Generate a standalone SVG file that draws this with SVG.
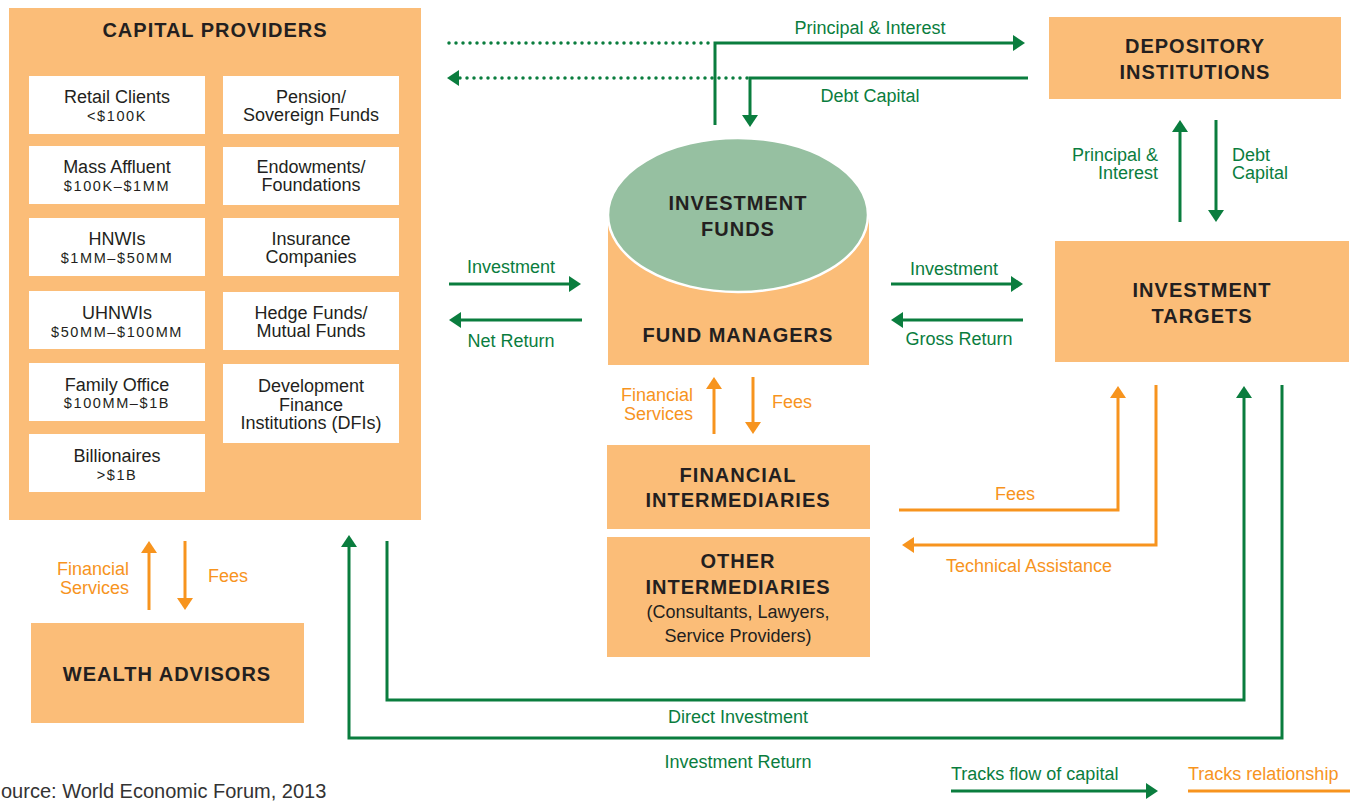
<svg xmlns="http://www.w3.org/2000/svg" width="1350" height="801" viewBox="0 0 1350 801">
<style>
.node{fill:#fbbd78}
.wbox{fill:#ffffff}
.h{font-family:"Liberation Sans",Arial,sans-serif;font-weight:bold;font-size:20px;letter-spacing:1px;fill:#231f20;text-anchor:middle}
.b{font-family:"Liberation Sans",Arial,sans-serif;font-size:18px;fill:#231f20;text-anchor:middle}
.s{font-family:"Liberation Sans",Arial,sans-serif;font-size:14.5px;letter-spacing:1.6px;fill:#231f20;text-anchor:middle}
.g{font-family:"Liberation Sans",Arial,sans-serif;font-size:18px;fill:#0a7d3e}
.o{font-family:"Liberation Sans",Arial,sans-serif;font-size:18px;fill:#f7941e}
.gl{fill:none;stroke:#0a7d3e;stroke-width:3}
.ol{fill:none;stroke:#f7941e;stroke-width:3}
.dot{fill:none;stroke:#0a7d3e;stroke-width:3.5;stroke-linecap:round;stroke-dasharray:0 7}
</style>
<defs>
<marker id="ag" viewBox="0 0 12 16" refX="2" refY="8" markerWidth="12" markerHeight="16" orient="auto" markerUnits="userSpaceOnUse"><path d="M0,0 L12,8 L0,16 z" fill="#0a7d3e"/></marker>
<marker id="ao" viewBox="0 0 12 16" refX="2" refY="8" markerWidth="12" markerHeight="16" orient="auto" markerUnits="userSpaceOnUse"><path d="M0,0 L12,8 L0,16 z" fill="#f7941e"/></marker>
</defs>

<g id="capital-providers">
<rect class="node" x="9" y="8" width="412" height="512"/>
<text class="h" x="215" y="37" font-size="21">CAPITAL PROVIDERS</text>
<rect class="wbox" x="29" y="76" width="176" height="58"/>
<text class="b" x="117" y="103">Retail Clients</text><text class="s" x="117" y="121">&lt;$100K</text>
<rect class="wbox" x="29" y="146" width="176" height="58"/>
<text class="b" x="117" y="173">Mass Affluent</text><text class="s" x="117" y="191">$100K–$1MM</text>
<rect class="wbox" x="29" y="218" width="176" height="58"/>
<text class="b" x="117" y="245">HNWIs</text><text class="s" x="117" y="263">$1MM–$50MM</text>
<rect class="wbox" x="29" y="291" width="176" height="58"/>
<text class="b" x="117" y="319">UHNWIs</text><text class="s" x="117" y="337">$50MM–$100MM</text>
<rect class="wbox" x="29" y="363" width="176" height="58"/>
<text class="b" x="117" y="391">Family Office</text><text class="s" x="117" y="408">$100MM–$1B</text>
<rect class="wbox" x="29" y="434" width="176" height="58"/>
<text class="b" x="117" y="462">Billionaires</text><text class="s" x="117" y="480">&gt;$1B</text>
<rect class="wbox" x="223" y="76" width="176" height="58"/>
<text class="b" x="311" y="103">Pension/</text><text class="b" x="311" y="121">Sovereign Funds</text>
<rect class="wbox" x="223" y="147" width="176" height="58"/>
<text class="b" x="311" y="173">Endowments/</text><text class="b" x="311" y="191">Foundations</text>
<rect class="wbox" x="223" y="218" width="176" height="58"/>
<text class="b" x="311" y="245">Insurance</text><text class="b" x="311" y="263">Companies</text>
<rect class="wbox" x="223" y="292" width="176" height="58"/>
<text class="b" x="311" y="319">Hedge Funds/</text><text class="b" x="311" y="337">Mutual Funds</text>
<rect class="wbox" x="223" y="364" width="176" height="79"/>
<text class="b" x="311" y="392">Development</text><text class="b" x="311" y="411">Finance</text><text class="b" x="311" y="429">Institutions (DFIs)</text>
</g>

<g id="depository-institutions">
<rect class="node" x="1049" y="17" width="292" height="82"/>
<text class="h" x="1195" y="53">DEPOSITORY</text>
<text class="h" x="1195" y="79">INSTITUTIONS</text>
</g>

<g id="investment-targets">
<rect class="node" x="1055" y="241" width="294" height="121"/>
<text class="h" x="1202" y="297">INVESTMENT</text>
<text class="h" x="1202" y="323">TARGETS</text>
</g>

<g id="fund-managers">
<rect class="node" x="608" y="215" width="261" height="150"/>
<text class="h" x="738" y="342">FUND MANAGERS</text>
</g>

<g id="investment-funds">
<ellipse cx="738" cy="215" rx="130" ry="77" fill="#96c0a1" stroke="#ffffff" stroke-width="2.5"/>
<text class="h" x="738" y="210">INVESTMENT</text>
<text class="h" x="738" y="236">FUNDS</text>
</g>

<g id="financial-intermediaries">
<rect class="node" x="607" y="445" width="263" height="84"/>
<text class="h" x="738" y="482">FINANCIAL</text>
<text class="h" x="738" y="507">INTERMEDIARIES</text>
</g>

<g id="other-intermediaries">
<rect class="node" x="607" y="537" width="263" height="120"/>
<text class="h" x="738" y="568">OTHER</text>
<text class="h" x="738" y="594">INTERMEDIARIES</text>
<text class="b" x="738" y="618">(Consultants, Lawyers,</text>
<text class="b" x="738" y="642">Service Providers)</text>
</g>

<g id="wealth-advisors">
<rect class="node" x="31" y="623" width="273" height="100"/>
<text class="h" x="167" y="681">WEALTH ADVISORS</text>
</g>

<g id="connectors">
<line class="dot" x1="449" y1="43" x2="712" y2="43"/>
<path class="gl" d="M715,125 V43 H1015" marker-end="url(#ag)"/>
<path class="gl" d="M1028,78 H750 V117" marker-end="url(#ag)"/>
<path class="dot" d="M747,78 H457" marker-end="url(#ag)"/>
<path class="gl" d="M449,284 H571" marker-end="url(#ag)"/>
<path class="gl" d="M582,320 H459" marker-end="url(#ag)"/>
<path class="gl" d="M891,284 H1013" marker-end="url(#ag)"/>
<path class="gl" d="M1023,320 H901" marker-end="url(#ag)"/>
<path class="gl" d="M1180,222 V130" marker-end="url(#ag)"/>
<path class="gl" d="M1216,120 V212" marker-end="url(#ag)"/>
<path class="gl" d="M387,541 V700 H1244 V396" marker-end="url(#ag)"/>
<path class="gl" d="M1282,385 V738 H349 V545" marker-end="url(#ag)"/>
<path class="ol" d="M714,434 V387" marker-end="url(#ao)"/>
<path class="ol" d="M753,377 V424" marker-end="url(#ao)"/>
<path class="ol" d="M899,510 H1118 V396" marker-end="url(#ao)"/>
<path class="ol" d="M1156,385 V545 H912" marker-end="url(#ao)"/>
<path class="ol" d="M149,610 V551" marker-end="url(#ao)"/>
<path class="ol" d="M185,541 V600" marker-end="url(#ao)"/>
</g>

<g id="labels">
<text class="g" x="870" y="34" text-anchor="middle">Principal &amp; Interest</text>
<text class="g" x="870" y="102" text-anchor="middle">Debt Capital</text>
<text class="g" x="511" y="273" text-anchor="middle">Investment</text>
<text class="g" x="511" y="347" text-anchor="middle">Net Return</text>
<text class="g" x="954" y="275" text-anchor="middle">Investment</text>
<text class="g" x="959" y="345" text-anchor="middle">Gross Return</text>
<text class="g" x="1158" y="161" text-anchor="end">Principal &amp;</text>
<text class="g" x="1158" y="179" text-anchor="end">Interest</text>
<text class="g" x="1232" y="161">Debt</text>
<text class="g" x="1232" y="179">Capital</text>
<text class="g" x="738" y="723" text-anchor="middle">Direct Investment</text>
<text class="g" x="738" y="768" text-anchor="middle">Investment Return</text>
<text class="o" x="693" y="401" text-anchor="end" font-size="17">Financial</text>
<text class="o" x="693" y="420" text-anchor="end" font-size="17">Services</text>
<text class="o" x="772" y="408">Fees</text>
<text class="o" x="1015" y="500" text-anchor="middle">Fees</text>
<text class="o" x="1029" y="572" text-anchor="middle">Technical Assistance</text>
<text class="o" x="129" y="575" text-anchor="end">Financial</text>
<text class="o" x="129" y="594" text-anchor="end">Services</text>
<text class="o" x="208" y="582">Fees</text>
<text x="1" y="798" font-family="Liberation Sans,Arial,sans-serif" font-size="20" fill="#333333">ource: World Economic Forum, 2013</text>
</g>

<g id="legend">
<text class="g" x="951" y="780">Tracks flow of capital</text>
<path class="gl" d="M951,791 H1148" marker-end="url(#ag)"/>
<text class="o" x="1188" y="780">Tracks relationship</text>
<line class="ol" x1="1188" y1="791" x2="1350" y2="791"/>
</g>
</svg>
